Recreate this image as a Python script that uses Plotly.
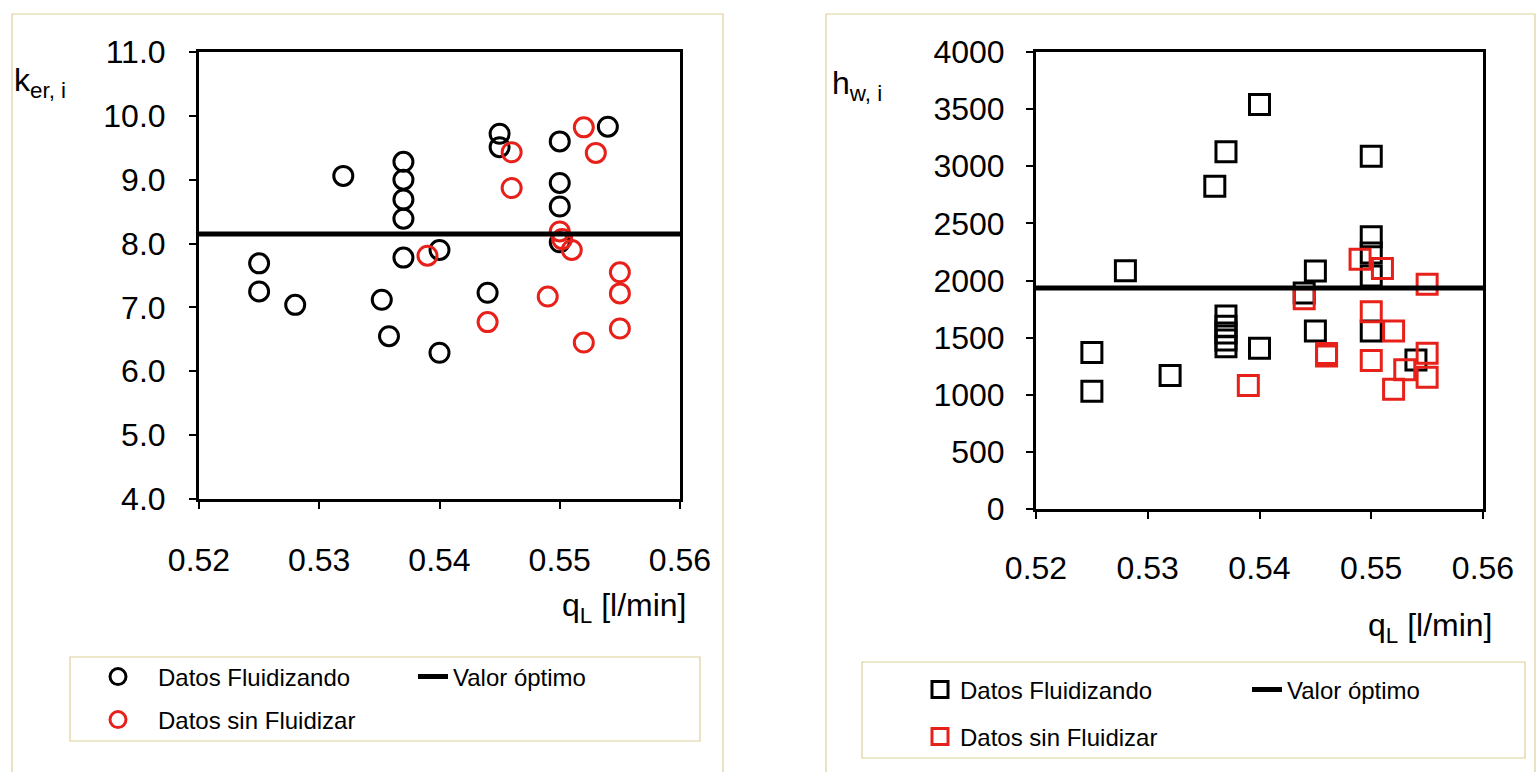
import plotly.graph_objects as go

# ---------------- data ----------------
# Left panel: k_er,i vs q_L
q_fluid_k = [0.525, 0.525, 0.528, 0.532, 0.5352, 0.5358, 0.537, 0.537, 0.537, 0.537, 0.537,
             0.540, 0.540, 0.544, 0.545, 0.545, 0.550, 0.550, 0.550, 0.550, 0.554]
k_fluid = [7.69, 7.25, 7.04, 9.06, 7.12, 6.55, 9.28, 9.00, 8.69, 8.39, 7.78,
           7.90, 6.29, 7.23, 9.72, 9.51, 9.60, 8.95, 8.58, 8.02, 9.83]
q_nofluid_k = [0.539, 0.544, 0.546, 0.546, 0.549, 0.550, 0.5502, 0.551, 0.552, 0.552, 0.553, 0.555, 0.555, 0.555]
k_nofluid = [7.81, 6.77, 9.43, 8.87, 7.17, 8.19, 8.07, 7.90, 9.82, 6.45, 9.42, 7.55, 7.22, 6.67]
k_optimo = 8.15

# Right panel: h_w,i vs q_L
q_fluid_h = [0.525, 0.525, 0.528, 0.532, 0.536, 0.537, 0.537, 0.537, 0.537, 0.537, 0.537,
             0.540, 0.540, 0.544, 0.545, 0.545, 0.550, 0.550, 0.550, 0.550, 0.550, 0.554]
h_fluid = [1370, 1030, 2086, 1168, 2826, 3126, 1690, 1600, 1540, 1480, 1420,
           3540, 1407, 1890, 2083, 1559, 3088, 2383, 2240, 2040, 1559, 1305]
q_nofluid_h = [0.539, 0.544, 0.546, 0.546, 0.549, 0.550, 0.550, 0.551, 0.552, 0.552, 0.553, 0.555, 0.555, 0.555]
h_nofluid = [1080, 1840, 1340, 1360, 2185, 1727, 1299, 2106, 1559, 1049, 1218, 1967, 1364, 1154]
h_optimo = 1935

q_range = [0.52, 0.56]
k_range = [4.0, 11.0]
h_range = [0, 4000]

names = ["Datos Fluidizando", "Datos sin Fluidizar", "Valor óptimo"]

# ---------------- layout helpers ----------------
W, H = 1539, 772
def px(x):
    return x / W
def py(y):
    return 1 - y / H

FONT = "Arial, 'Liberation Sans', sans-serif"
RED = "#e8201a"
PAD = "\u00a0\u00a0\u00a0"

fig = go.Figure()

# Left panel traces
fig.add_trace(go.Scatter(x=q_fluid_k, y=k_fluid, mode="markers", name=PAD + names[0],
                         marker=dict(symbol="circle-open", size=19, color="black",
                                     line=dict(width=3, color="black")),
                         xaxis="x", yaxis="y", legend="legend"))
fig.add_trace(go.Scatter(x=q_nofluid_k, y=k_nofluid, mode="markers", name=PAD + names[1],
                         marker=dict(symbol="circle-open", size=19, color=RED,
                                     line=dict(width=3, color=RED)),
                         xaxis="x", yaxis="y", legend="legend2"))
fig.add_trace(go.Scatter(x=q_range, y=[k_optimo, k_optimo], mode="lines", name=names[2],
                         line=dict(color="black", width=5),
                         xaxis="x", yaxis="y", legend="legend3"))

# Right panel traces
fig.add_trace(go.Scatter(x=q_fluid_h, y=h_fluid, mode="markers", name=names[0],
                         marker=dict(symbol="square-open", size=20, color="black",
                                     line=dict(width=3, color="black")),
                         xaxis="x2", yaxis="y2", legend="legend4"))
fig.add_trace(go.Scatter(x=q_nofluid_h, y=h_nofluid, mode="markers", name=names[1],
                         marker=dict(symbol="square-open", size=20, color=RED,
                                     line=dict(width=3, color=RED)),
                         xaxis="x2", yaxis="y2", legend="legend5"))
fig.add_trace(go.Scatter(x=q_range, y=[h_optimo, h_optimo], mode="lines", name=names[2],
                         line=dict(color="black", width=5),
                         xaxis="x2", yaxis="y2", legend="legend6"))

tickfont = dict(family=FONT, size=32, color="black")
axis_common = dict(showline=True, linewidth=3, linecolor="black", mirror=True,
                   ticks="outside", ticklen=7, tickwidth=1.5, tickcolor="black",
                   showgrid=False, zeroline=False, tickfont=tickfont, automargin=False)

fig.update_layout(
    width=W, height=H,
    margin=dict(l=0, r=0, t=0, b=0, pad=0, autoexpand=False),
    paper_bgcolor="white", plot_bgcolor="white",
    font=dict(family=FONT, color="black"),
    xaxis=dict(domain=[px(199), px(680)], range=q_range, dtick=0.01, tickformat=".2f",
               anchor="y", ticklabelstandoff=24, **axis_common),
    yaxis=dict(domain=[py(499), py(52)], range=k_range, dtick=1, tickformat=".1f",
               anchor="x", ticklabelstandoff=17, **axis_common),
    xaxis2=dict(domain=[px(1036), px(1483)], range=q_range, dtick=0.01, tickformat=".2f",
                anchor="y2", ticklabelstandoff=22, **axis_common),
    yaxis2=dict(domain=[py(509), py(52)], range=h_range, dtick=500,
                anchor="x2", ticklabelstandoff=15, **axis_common),
    showlegend=True,
)

legfont = dict(family=FONT, size=24, color="black")
def leg(x, y):
    return dict(x=px(x), y=py(y), xanchor="left", yanchor="middle", orientation="v",
                bgcolor="rgba(0,0,0,0)", borderwidth=0, font=legfont,
                itemsizing="trace")

fig.update_layout(
    legend=leg(98, 677),
    legend2=leg(98, 720),
    legend3=leg(413, 677),
    legend4=leg(920, 690),
    legend5=leg(920, 737),
    legend6=leg(1247, 690),
)

# annotations (axis titles)
ann_font = dict(family=FONT, size=32, color="black")
fig.add_annotation(x=px(12), y=py(82), xref="paper", yref="paper", xanchor="left", yanchor="middle",
                   text="k<sub>er, i</sub>", showarrow=False, font=ann_font)
fig.add_annotation(x=px(688), y=py(607), xref="paper", yref="paper", xanchor="right", yanchor="middle",
                   text="q<sub>L</sub> [l/min]", showarrow=False, font=ann_font)
fig.add_annotation(x=px(830), y=py(86), xref="paper", yref="paper", xanchor="left", yanchor="middle",
                   text="h<sub>w, i</sub>", showarrow=False, font=ann_font)
fig.add_annotation(x=px(1494), y=py(627), xref="paper", yref="paper", xanchor="right", yanchor="middle",
                   text="q<sub>L</sub> [l/min]", showarrow=False, font=ann_font)

# frames
frame = dict(color="#dccf9a", width=1.2)
fig.add_shape(type="rect", xref="paper", yref="paper", x0=px(12), x1=px(723), y0=py(800), y1=py(14), line=frame)
fig.add_shape(type="rect", xref="paper", yref="paper", x0=px(826), x1=px(1535), y0=py(800), y1=py(14), line=frame)
fig.add_shape(type="rect", xref="paper", yref="paper", x0=px(70), x1=px(700), y0=py(741), y1=py(657), line=frame)
fig.add_shape(type="rect", xref="paper", yref="paper", x0=px(862), x1=px(1525), y0=py(758), y1=py(662), line=frame)

fig.write_html("out.html")
